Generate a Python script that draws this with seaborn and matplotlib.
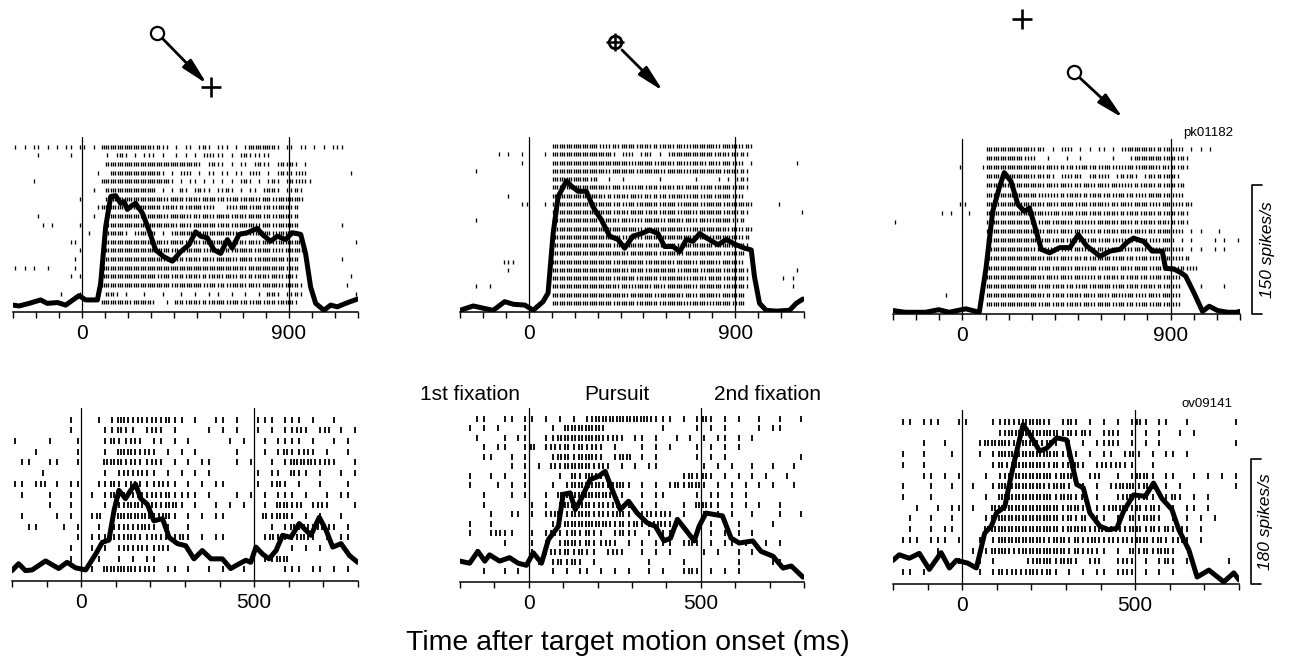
import matplotlib
matplotlib.use("Agg")
import matplotlib.pyplot as plt
import matplotlib.transforms as mtransforms
import numpy as np
import pandas as pd
import seaborn as sns

# ---- time axes (ms) ----
top_range = (-300, 1200)
bottom_range = (-200, 800)
tick_step = 100
bin_ms = 20  # one raster character = 20 ms, '|' one spike, ':' two spikes
top_events = [0, 900]
bottom_events = [0, 500]
top_scale = 150      # spikes/s
bottom_scale = 180   # spikes/s
cell_ids = ["pk01182", "ov09141"]
epoch_names = ["1st fixation", "Pursuit", "2nd fixation"]
epoch_times = [-170, 257, 693]
xlabel = "Time after target motion onset (ms)"

# ---- spike density functions (ms, spikes/s) ----
tl_t = [-300, -274, -230, -180, -151, -107, -71, -13, 16, 67, 81, 103, 125, 146, 168, 183, 197, 219, 233, 262,
        291, 320, 356, 393, 429, 465, 494, 516, 545, 574, 603, 632, 653, 683, 719, 762, 784, 820, 849, 885,
        914, 951, 972, 994, 1016, 1052, 1081, 1110, 1146, 1197]
tl_r = [8, 7, 10, 14, 10, 11, 8, 19, 14, 14, 33, 99, 134, 135, 126, 128, 119, 124, 126, 115,
        95, 72, 64, 59, 70, 78, 93, 88, 86, 72, 68, 84, 74, 90, 92, 97, 90, 82, 88, 84,
        92, 90, 68, 29, 10, 2, 8, 6, 10, 15]

tm_t = [-300, -242, -192, -155, -105, -68, -17, 19, 62, 84, 106, 128, 164, 186, 215, 251, 280, 316, 353, 389,
        418, 454, 491, 527, 563, 592, 629, 658, 687, 716, 745, 774, 825, 861, 904, 941, 970, 984, 1006, 1035,
        1079, 1137, 1166, 1195]
tm_r = [2, 7, 4, 2, 12, 9, 8, 2, 12, 22, 91, 134, 152, 146, 140, 140, 122, 107, 88, 84,
        74, 88, 91, 95, 91, 76, 76, 70, 84, 82, 91, 86, 78, 84, 78, 74, 72, 41, 10, 2,
        1, 2, 10, 15]

tr_t = [-300, -247, -160, -102, -58, 15, 73, 102, 131, 160, 181, 210, 240, 268, 290, 319, 341, 377, 421, 465,
        501, 537, 595, 639, 682, 711, 740, 784, 820, 864, 878, 915, 944, 965, 1002, 1038, 1067, 1103, 1147, 1183,
        1200]
tr_r = [4, 2, 2, 5, 2, 6, 2, 53, 119, 147, 164, 154, 127, 119, 123, 96, 75, 71, 77, 77,
        92, 79, 67, 73, 75, 83, 88, 84, 73, 73, 53, 52, 48, 44, 24, 3, 9, 4, 2, 2,
        3]

bl_t = [-200, -181, -161, -142, -103, -65, -41, -16, 13, 42, 61, 80, 95, 109, 128, 143, 157, 172, 191, 210,
        235, 254, 278, 302, 326, 350, 375, 408, 432, 457, 476, 490, 505, 524, 543, 563, 582, 606, 630, 664,
        688, 708, 727, 751, 775, 799]
bl_r = [15, 25, 15, 16, 29, 18, 27, 19, 16, 39, 56, 59, 102, 131, 119, 131, 140, 119, 111, 87,
        90, 63, 54, 51, 32, 44, 32, 32, 18, 25, 30, 27, 49, 39, 32, 44, 66, 63, 83, 66,
        92, 73, 49, 54, 37, 27]

bm_t = [-200, -172, -148, -128, -114, -85, -56, -31, -7, 13, 37, 57, 86, 100, 120, 135, 154, 178, 203, 222,
        242, 266, 290, 315, 344, 368, 393, 412, 432, 456, 481, 495, 515, 539, 563, 588, 612, 651, 675, 710,
        739, 763, 797]
bm_r = [30, 27, 44, 30, 39, 30, 35, 27, 24, 42, 27, 61, 80, 126, 128, 104, 121, 147, 152, 159,
        133, 104, 116, 99, 85, 80, 59, 63, 90, 75, 59, 80, 99, 97, 95, 63, 56, 59, 44, 37,
        20, 23, 7]

br_t = [-200, -182, -153, -124, -95, -61, -37, -17, 16, 41, 65, 84, 99, 123, 137, 152, 176, 195, 224, 244,
        273, 302, 331, 350, 369, 398, 423, 447, 466, 495, 529, 553, 577, 606, 626, 655, 679, 713, 756, 785,
        800]
br_r = [34, 42, 37, 44, 21, 45, 23, 34, 30, 23, 73, 83, 102, 111, 145, 179, 229, 215, 191, 195,
        210, 207, 143, 138, 102, 83, 78, 80, 104, 128, 126, 145, 123, 107, 78, 49, 10, 20, 3, 16,
        6]

# ---- rasters, one string per trial (top trial first), groups of 300 ms / 200 ms ----
tl_raster = [
    "|.|.||.|.|.||.|/|.|.:::::::::::/|:||.|.||.|:|.|/||.|.|::::::|.|/|.||.|.|.|||...",
    ".....|......|../.....|.|:|.|.||/|.|..|.|.|.|:||/|.|.|:|||||..../...............",
    ".............../.....::::::::::/::::::::::|.|:|/|.|.||.|:||.|:|/:|.|...........",
    "................/..|..::::::::::/:|.|.|:|.|.||.|/|.||.|:|.|.|:||/|:|.........|..",
    "....|........../....:::::::::::/::::|.|.||.|.|./|.|.|:|.|.|:|.|/:|:||..........",
    ".............../..|..::::::::::/:.|.|.:|.|:||.|/|:|.|.||.|::|.|/|:|............",
    "..............|/.....::::::::::/:::|:::|::|:::|/:|::|:::|::|:::/:::............",
    "............../....|::::::::::/:::|::|:|:::|:|/..|:|::|::|:|::/:|:............",
    ".....|........./..|..::::::::::/:::|::::|:|::|:/::|::|:::|:|:::/|:.............",
    "......|.|.....|/.....::::::::::/:::::|::|:::::|/::|:::::|::|:::/::.........|...",
    ".............../.|...::::|.|:::/:.|.|::::|:::::/:::|::|::::|:::/::.............",
    "............||./.....::::::::::/:::|:::|::|::::/:|:::|::|::|:::/:::...........|",
    "..............|/.....::::::::::/::::|:|::::|::|/::|::::|:::|:|:/:::............",
    ".............|./.....::::::::::/:::|:::|::|::|:/:::|:::|::::::|/::.........|...",
    "|.|.|..|.....|./....:::::::::::/:::::::::::::::/:::::|::::::::|/::.............",
    "............|.|/....:::::::::::/:|::|::|::|:|::/|::|:|:|::|::|:/:|...........|.",
    ".............../....:::::::::::/::::|::::::|::|/:|:::|::|::::|:/::|.........|..",
    "..........|...|/.....::|.|...|./..|...|..|..|.|/..|..|..|.::|.|/|:|...........|",
    ".............../....::::::|::::/|..|.::|::|:|::/:|::|:|::|::|::/:|.............",
]
tm_raster = [
    ".............../.....::::::::::/|:|:|:::|::|:|:/:|::|::::::|:::/:|:|...........",
    "........|.|..|./...|.::::::::::/:::|.|:|.|:|.|./|:::::::::|::|:/|:|............",
    ".............|./.....::::::::::/:::::::|::::|::/:|::|:::|::|::|/:|.|.........|.",
    "...|.........../.....::::::::::/::|:::::|:::::|/::::|:::::::|::/|:|............",
    ".............../.....::::::::|:/..|..|.......|./......|....|.|./|:|............",
    ".............../.....::::::::::/::|::|:|::|::|:/:|:|:::|::|:::|/::|............",
    "..........|..../.....::::::::::/:|:|::|::|:|:|:/|:::|::|::|:::|/:|.............",
    ".............||/...|.::::::::::/:::|:|::|::::|:/::|::::|::::|::/:::|.....|.....",
    ".............../.....::::::::::/:::|::|:::|::|:/::|:::|:::::|::/|:|...........|",
    "...|.........../.....::::::::::/|:::|::|:|::::|/:::|::|::|::::|/|:.............",
    ".............../.....::::::::::/:::::::::|:::::/::::|::::::::|:/:|:|...........",
    ".............../.....::::::::::/:::::|:::|:::::/:::::::::|:::::/:|:............",
    ".............../.....::::::::::/:::|::::::|::::/::|:::::::|::::/::|............",
    ".............../.....::::::::::/::::::|::::::|:/:::|::::::::|::/::.............",
    ".........|||.../.....::::::::::/:::|::::::|::::/:|::::|::::|:::/:|.............",
    "..........|..../.....::::::::::/::::::|:::|::::/::|::::|::::|::/::|..........|.",
    ".............../.....::::::::::/:::|::::|::::|:/::::|:::|:::|::/::|.......|.|..",
    "...|..|......../.....::::::::::/::::|::|:::|::|/::::::|:::::|::/::|.........|..",
    ".............../.....::::::::::/::::::|:::::|::/:::|::|::::|:::/::.............",
    ".............../.....::::::::::/:::|::::|::::|:/::::|::::|::::|/::.............",
]
tr_raster = [
    ".............../.....::::::::::/|:|.|.|:|.|.|.|/|.|.|::::::|:|:/|:|.|.|.|......",
    ".............../.....::::::::|:/|..|...|..|..../..|...|::::::|:/:|:|...........",
    "..............|/....|::::::::::/::|::|:|:|::|:|/::|:|::|::::|:|/:|:|...........",
    ".............../.....::::::::::/|:|:|.|:|:|.|:|/:|.|:|:|.|:|:|:/:|.............",
    ".............../.....::::::::::/::|::|::|:|::|:/:|::|:|:|::|:|:/:|:............",
    ".............../.....::::::::::/:|:|:|:|::|:|::/|:|::|:|:|:::|:/|:|............",
    "..............|/|....::::::::::/::|::|:::|::|::/:|:|::|:::|:|::/|:|:|..........",
    "..........|.|../.|...::::::::::/:::|::|::|::|::/|::|:|::|::|:|:/:|:|...........",
    "|............../.....::::::::::/:|::|:::|::|:|:/:::|::|:|::|::|/:|:|...........",
    ".............../.....::::::::::/::|::|::|::|:|:/|::|::|::|:|:::/|:|.|.|...|....",
    ".............../.....::::::::::/:|::|::|:|:|::|/::|:|::|::|:|::/|.|.|....|.|..|",
    ".............../.....::::::::::/|::|::|:|::|:|:/:|::|:|::|::|::/|:|.|.|..|.|...",
    ".............../.....::::::::::/::|::|::|:|:|::/::|::|:|::|:|::/|:|:...........",
    ".............../.....::::::::::/:|::|:::|::|::|/:::|::|:::|::|:/:|:|:|.........",
    ".............../.....::::::::::/::|::|::|::|:|:/|::|:|::|:|::|:/|:.............",
    ".............../.....::::::::::/:|::|::|:|::|::/::|::|::|::|:|:/|:....|....|...",
    "...........|.../.....::::::::::/::|:|::|::|::|:/:|::|::|:|::|::/|:.............",
    ".............../.....::::::::::/:|::|::|::|::|:/::|::|:|::|::|:/|:.............",
]
bl_raster = [
    "........|./..|.|::|:|/:|:||.|..|/|.|..|||.|/||.|..|...",
    "........|./...||:||.|/:|.|....|./|.|..|.|.|/|:|.|:.|.|",
    "|....|...|/...|:||:|./||.|.|..../.|.|..|.||/||.|..|.|.",
    "...|.....|/...|.:::|:/|.|.|.|.../..|...|.|:/||:|.|..|.",
    ".||..||..|/...:::|:||/:|.|.|.||./..|.|..|.|/::::|:|..|",
    "....|...../...|.|:|:|/|.|.|.|.|./.....|.||./:||.|..|.|",
    "||.|:.|.||/..||:||:||/|:||.|.|.|/|....|.|:|/.|..|...|.",
    ".|...|..|./.|.|:|:|:|/:|:||||.|./..|.|.|.||/|.|..|.||.",
    ".....|..|./...|.|:::|/:|::|.|..|/.|.|..|.::/|:.|:|...|",
    ".|....|.|./.|:.|:::::/|::|.|.|.|/|.....:|::/|.|.|..|..",
    "..||...|.|/..|.:|:|::/|.|..|..../.......|.|/:|:|::|.|.",
    ".........|/.|||:|::||/:|:|:|.|.|/|.....|:||/|::|.|.||.",
    "........|./.|.|.|:|:|/|:|......./........|./|.|.|.....",
    "........|./..|..|.|.|/|........./......||::/..........",
    "........../.|.:::::|:/|.||.|..|./|..|.....|/||.||.|.|.",
]
bm_raster = [
    "..||..||.|/|.|.|.|.|:/::::::::||/|.|.|:|.|./|..|..|..|",
    ".|.|.|...|/...|.:::::/:........|/....|.|.|./...|.||...",
    "..|...|.||/..||::::::/:|:|.||.|./.|.|.|.||./|.|.......",
    "...|.||..|/:.|:|:|:|:/|.|...|.|./|...|.|.|./|.........",
    "...||..|.|/...|::|:::/|.|::.|.|./....|.|.|./.........|",
    ".......|.|/.|.:|::::|/:|.|.|.||./.....|.|.|/..|..|..|.",
    ".|..|.|..|/....|.:|::/|........./..|:|:|.|./|.|.|..|..",
    ".|...|.|.|/...|.|::::/:|::|.|.|./|:|::|.|.|/.|.|.|..|.",
    "...|...|.|/..|.:|::::/::.|..|.||/....|.||.|/.|........",
    "...|....../|.|.|::::|/:|:.|.|.|./..|.::||.|/.|.|..|...",
    "....|..||./|.|::|:::|/:|::|.|:|:/|.|..|.|.|/..|...|..|",
    ".|..|...../...||:::::/::|:|:||::/||....|.|./|....|....",
    ".|..|:||../|.|:||:|:|/|.|:||.|.|/|.....|.|./|.|.......",
    "......|.../|.|.|::|:|/|:|.|.|.||/|.|:|.|.||/.|..|.|...",
    "..|......./|.|:|:|:||/.|:|..|.|./|....|.|../|.|.......",
    ".........../|.|:|:|.|./......|.../.|.......|/....||....",
    "...|..|.|./...|.|.||./|.|.|..|.|/..|:|.|.|./|.........",
]
br_raster = [
    ".||.|||..|/|...||:|::/::|.|:|.|./|.|.|:|.||/..|......|",
    "........../.....|::::/::::|:|:|./|:|.|.|.|./.|.|......",
    "....|..|../..|::::|::/:|:|.|.|.|/|:|.|.|.|./.........|",
    ".|..|...|./..|.|:::::/::::|:|.|./||.|:|.|.|/|.|.......",
    ".|..|...../....|:|:::/::|:|::|.|/:|:||..|../..........",
    "....||.|.|/...|.|::::/:::|::|.|:/..|.|::|.|/|..|.|.|.|",
    ".|...|..|./.|..|:::::/::|::|.|.|/.|:::|:|.|/.|.......|",
    ".|...|..../...|.:::::/:::|::|:.|/..|::|:|.|/:|.|.|....",
    "...|..|.||/.|..::::::/::::|::|.|/|:::|:|:|./|.||.|....",
    "..|..|..|./...|::::::/::::|:|:.|/|.|.:|::|./|.|.|.|...",
    "..|..|.||./...:::::::/::::|:::|:/:|:|::|:|:/|:|.|.....",
    ".|||.|||.|/..|.|:::::/::|::|:|::/|:|:|::|:|/|:|.|.....",
    "......|.../.|.|:::|::/:::::|:|:|/|.|.:|:|::/|.........",
    ".........|/..|.|....|/:::|::|.|:/..|:|.|.|:/|.|.....|.",
    ".||.|...../..|.|:|:|:/:|:|.|.|.|/|.|:|.|.|./|.........",
]

# ---- panel boxes in pixels (left, top, right, bottom) ----
W, H = 1292, 665
panel_boxes = [(13, 137, 358, 312), (460, 137, 804, 312), (893, 139, 1240, 314),
               (12, 408, 358, 581), (460, 408, 804, 582), (893, 410, 1239, 584)]

sns.set_style("white")
plt.rcParams["font.family"] = ["Liberation Sans", "DejaVu Sans"]
plt.rcParams["text.color"] = "black"
plt.rcParams["xtick.color"] = "black"
plt.rcParams["axes.labelcolor"] = "black"


def spike_table(rows, t0):
    recs = []
    n = len(rows)
    for r, row in enumerate(rows):
        row = row.replace("/", "")
        for i, c in enumerate(row):
            left = t0 + i * bin_ms
            if c == "|":
                recs.append((left + bin_ms / 2, n - 1 - r))
            elif c == ":":
                recs.append((left + bin_ms / 4, n - 1 - r))
                recs.append((left + 3 * bin_ms / 4, n - 1 - r))
    return pd.DataFrame(recs, columns=["time", "trial"])


def draw_panel(box, raster, t, r, trange, events, ymax, tick_s, tick_lw):
    l, tp, rt, b = box
    ax = fig.add_axes([l / W, 1 - b / H, (rt - l) / W, (b - tp) / H])
    spikes = spike_table(raster, trange[0])
    sns.scatterplot(data=spikes, x="time", y="trial", marker="|", s=tick_s,
                    color="k", edgecolor="k", linewidth=tick_lw, ax=ax, legend=False)
    ax.set_ylim(-1.1, len(raster) - 1 + 1.1)
    ax.set_xlim(*trange)
    for ev in events:
        ax.axvline(ev, color="k", lw=0.9)
    ticks = np.arange(trange[0], trange[1] + 1, tick_step)
    ax.set_xticks(ticks)
    ax.set_xticklabels([str(v) if v in events else "" for v in ticks])
    ax.tick_params(axis="x", direction="out", length=4.5, width=1.0, pad=4,
                   labelsize=15, bottom=True, colors="k")
    ax.set_yticks([])
    ax.set_xlabel("")
    ax.set_ylabel("")
    for s in ["top", "left", "right"]:
        ax.spines[s].set_visible(False)
    ax.spines["bottom"].set_linewidth(1.1)
    ax.spines["bottom"].set_color("k")

    ax2 = ax.twinx()
    sns.lineplot(x=t, y=r, ax=ax2, color="k", lw=3.6, solid_joinstyle="round",
                 solid_capstyle="round")
    ax2.set_ylim(0, ymax)
    ax2.set_xlim(*trange)
    ax2.set_yticks([])
    ax2.set_ylabel("")
    for s in ax2.spines.values():
        s.set_visible(False)
    return ax, ax2


def scale_bar(ax2, value, label):
    trans = mtransforms.blended_transform_factory(ax2.transAxes, ax2.transData)
    ax2.plot([1.063, 1.034, 1.034, 1.063], [value, value, 0, 0], color="k", lw=1.2,
             transform=trans, clip_on=False)
    ax2.text(1.078, value / 2, label, transform=trans, rotation=90, ha="center",
             va="center", fontsize=12.5, style="italic", color="k")


fig = plt.figure(figsize=(W / 100, H / 100), dpi=100)

top_ymax = 203
bot_ymax = 250
draw_panel(panel_boxes[0], tl_raster, tl_t, tl_r, top_range, top_events, top_ymax, 12, 0.95)
draw_panel(panel_boxes[1], tm_raster, tm_t, tm_r, top_range, top_events, top_ymax, 12, 0.95)
ax_tr, ax_tr2 = draw_panel(panel_boxes[2], tr_raster, tr_t, tr_r, top_range, top_events, top_ymax, 12, 0.95)
draw_panel(panel_boxes[3], bl_raster, bl_t, bl_r, bottom_range, bottom_events, bot_ymax, 20, 1.3)
ax_bm, _ = draw_panel(panel_boxes[4], bm_raster, bm_t, bm_r, bottom_range, bottom_events, bot_ymax, 18, 1.3)
ax_br, ax_br2 = draw_panel(panel_boxes[5], br_raster, br_t, br_r, bottom_range, bottom_events, bot_ymax, 20, 1.3)

scale_bar(ax_tr2, top_scale, f"{top_scale} spikes/s")
scale_bar(ax_br2, bottom_scale, f"{bottom_scale} spikes/s")

ax_tr.text(0.98, 1.0, cell_ids[0], transform=ax_tr.transAxes, ha="right", va="bottom", fontsize=9.5)
ax_br.text(0.98, 1.0, cell_ids[1], transform=ax_br.transAxes, ha="right", va="bottom", fontsize=9.5)

ep_trans = mtransforms.blended_transform_factory(ax_bm.transData, ax_bm.transAxes)
for name, et in zip(epoch_names, epoch_times):
    ax_bm.text(et, 1.075, name, transform=ep_trans, ha="center", va="center", fontsize=15)

fig.text(628 / W, 1 - 643 / H, xlabel, ha="center", va="center", fontsize=20.5)

# ---- stimulus sketches above the top panels (pixel coordinates) ----
cue_circles = [(157, 33), (1074, 72)]
fix_crosses = [(211, 87), (1022, 19)]
moving_fix = (615, 42)
arrows = [((163, 39), (207, 84)), ((622, 50), (663, 91)), ((1080, 78), (1123, 118))]

ov = fig.add_axes([0, 0, 1, 1])
ov.set_xlim(0, W)
ov.set_ylim(H, 0)
ov.axis("off")
ov.patch.set_visible(False)
for cx, cy in cue_circles:
    ov.plot(cx, cy, marker="o", ms=9.5, mfc="white", mec="k", mew=1.6)
for cx, cy in fix_crosses:
    ov.plot(cx, cy, marker="+", ms=14.5, mec="k", mew=1.9)
ov.plot(*moving_fix, marker="o", ms=9, mfc="white", mec="k", mew=2.0)
ov.plot(*moving_fix, marker="+", ms=13.5, mec="k", mew=1.8)
for start, end in arrows:
    ov.annotate("", xy=end, xytext=start,
                arrowprops=dict(arrowstyle="-|>,head_length=1.6,head_width=0.36",
                                mutation_scale=10, lw=2.0, color="k",
                                shrinkA=0, shrinkB=0))

fig.savefig("out.png", dpi=100)
